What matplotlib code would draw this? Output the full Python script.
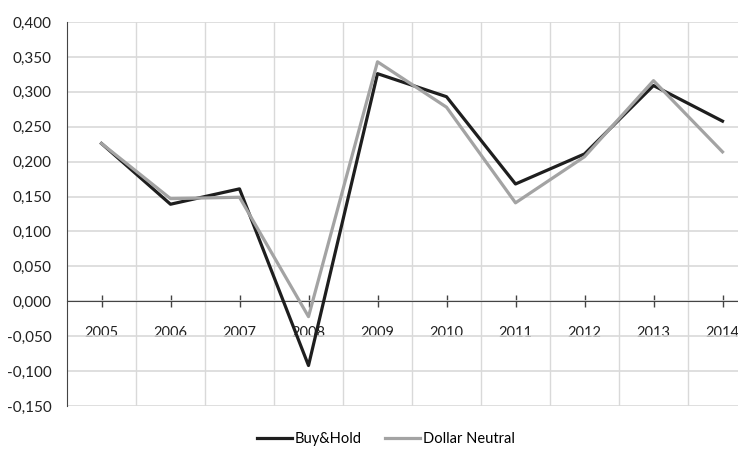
import numpy as np
import matplotlib
matplotlib.use("Agg")
import matplotlib.pyplot as plt
from matplotlib.ticker import FuncFormatter, MultipleLocator

# annual returns per strategy
years = ["2005", "2006", "2007", "2008", "2009", "2010", "2011", "2012", "2013", "2014"]
buy_hold = [0.226, 0.139, 0.161, -0.092, 0.326, 0.293, 0.168, 0.211, 0.309, 0.258]
dollar_neutral = [0.226, 0.147, 0.149, -0.022, 0.343, 0.278, 0.141, 0.207, 0.316, 0.214]

plt.rcParams['font.family'] = ['Lato', 'DejaVu Sans']

fig = plt.figure(figsize=(7.38, 4.5), dpi=100)
ax = fig.add_axes([67 / 738, 1 - 406 / 450, 1 - 67 / 738, 384 / 450])

x = np.arange(len(years))
ax.plot(x, buy_hold, color='#1e1e1e', lw=2.3, label='Buy&Hold', zorder=3)
ax.plot(x, dollar_neutral, color='#a3a3a3', lw=2.3, label='Dollar Neutral', zorder=3)

# the frame runs past the right edge
ax.set_xlim(-0.5, -0.5 + 671 / 69)
ax.set_ylim(-0.15, 0.4)
ax.yaxis.set_major_locator(MultipleLocator(0.05))
ax.yaxis.set_major_formatter(FuncFormatter(lambda v, p: f"{v:.3f}".replace('.', ',')))
ax.tick_params(axis='y', length=0, pad=11, labelsize=11, labelcolor='#222222')

# category gridlines sit between the years
for b in np.arange(0.5, len(years), 1.0):
    ax.axvline(b, color='#d9d9d9', lw=1, zorder=0)
ax.grid(axis='y', color='#d9d9d9', lw=1.2, zorder=0)

ax.set_xticks(x)
ax.set_xticklabels(years)
ax.spines['bottom'].set_position(('data', 0))
ax.spines['bottom'].set_color('#444444')
ax.spines['left'].set_color('#444444')
ax.spines['top'].set_visible(False)
ax.spines['right'].set_visible(False)
ax.tick_params(axis='x', direction='inout', length=8, width=1, color='#444444',
               pad=14, labelsize=10.5, labelcolor='#222222')

fig.legend(loc='center', bbox_to_anchor=(0.523, 0.024), ncol=2, frameon=False,
           fontsize=10.5, handlelength=2.4, columnspacing=1.6, handletextpad=0.2)

fig.savefig('out.png', dpi=100)
